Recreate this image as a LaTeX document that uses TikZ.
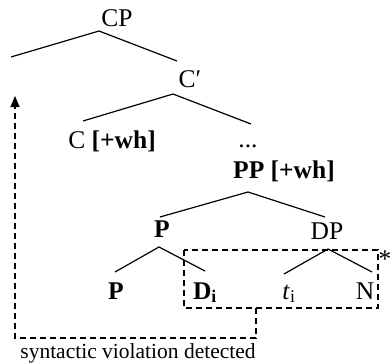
\documentclass[tikz,border=0pt]{standalone}
\usepackage{fontspec}
\setmainfont{Liberation Serif}
\usetikzlibrary{arrows.meta}
\begin{document}
\begin{tikzpicture}[x=1pt,y=-1pt,
  lbl/.style={anchor=base,inner sep=0pt,font=\fontsize{25.5}{30}\selectfont},
  small/.style={anchor=base,inner sep=0pt,font=\fontsize{21.5}{25}\selectfont},
  edge/.style={line width=1.2pt},
  dsh/.style={line width=1.1pt,dash pattern=on 6pt off 4pt}]
\useasboundingbox (0,0) rectangle (391,364);
% labels
\node[lbl] (cp) at (117,27) {CP};
\node[lbl] (cbar) at (190,87) {C′};
\node[lbl] (c) at (112,148) {C \textbf{[+wh]}};
\node[lbl] (dots) at (248,147) {...};
\node[lbl] (pp) at (284,178) {\textbf{PP [+wh]}};
\node[lbl] (p1) at (162,237) {\textbf{P}};
\node[lbl] (dp) at (327,239) {DP};
\node[lbl] (p2) at (116,299) {\textbf{P}};
\node[lbl] (d) at (205,299) {\textbf{D\textsubscript{i}}};
\node[lbl] (t) at (289,299) {\textit{t}\textsubscript{i}};
\node[lbl] (n) at (365,299) {N};
\node[lbl] (star) at (385,267) {*};
\node[small] (viol) at (138,358) {syntactic violation detected};
% tree coordinates
\coordinate (cpA) at (99,31);
\coordinate (cpL) at (11,57);
\coordinate (cpR) at (177,61);
\coordinate (cbA) at (173,94);
\coordinate (cbL) at (83,121);
\coordinate (cbR) at (251,124);
\coordinate (ppA) at (248,192);
\coordinate (ppL) at (160,217);
\coordinate (ppR) at (325,217);
\coordinate (p1A) at (159,247);
\coordinate (p1L) at (115,272);
\coordinate (p1R) at (205,271);
\coordinate (dpA) at (328,249);
\coordinate (dpL) at (284,274);
\coordinate (dpR) at (372,272);
\draw[edge] (cpL) -- (cpA) -- (cpR);
\draw[edge] (cbL) -- (cbA) -- (cbR);
\draw[edge] (ppL) -- (ppA) -- (ppR);
\draw[edge] (p1L) -- (p1A) -- (p1R);
\draw[edge] (dpL) -- (dpA) -- (dpR);
% dashed box and arrow
\coordinate (bx1) at (184,250);
\coordinate (bx2) at (378,308);
\draw[dsh] (bx1) rectangle (bx2);
\coordinate (s1) at (256,308);
\coordinate (s2) at (256,338);
\coordinate (s3) at (15,338);
\coordinate (tip) at (15,96);
\draw[dsh,-{Triangle[width=9pt,length=11pt]}] (s1) -- (s2) -- (s3) -- (tip);
\end{tikzpicture}
\end{document}
